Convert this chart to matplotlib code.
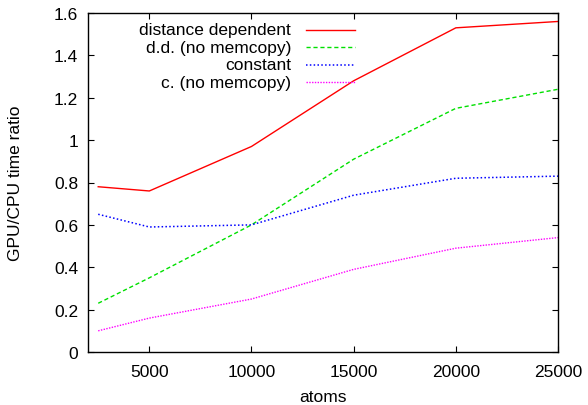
import numpy as np
import matplotlib
matplotlib.use("Agg")
import matplotlib.pyplot as plt

plt.rcParams['font.family'] = ['Liberation Sans', 'DejaVu Sans']

# atoms vs GPU/CPU time ratio
atoms = [2500, 5000, 10000, 15000, 20000, 25000]
dist_dep = [0.78, 0.76, 0.97, 1.28, 1.53, 1.56]
dd_nomem = [0.23, 0.35, 0.60, 0.91, 1.15, 1.24]
const = [0.65, 0.59, 0.60, 0.74, 0.82, 0.83]
c_nomem = [0.10, 0.16, 0.25, 0.39, 0.49, 0.54]

labels = ["distance dependent", "d.d. (no memcopy)", "constant", "c. (no memcopy)"]
xticks = [5000, 10000, 15000, 20000, 25000]
yticks = [0, 0.2, 0.4, 0.6, 0.8, 1, 1.2, 1.4, 1.6]
ytick_labels = ["0", "0.2", "0.4", "0.6", "0.8", "1", "1.2", "1.4", "1.6"]

fs = 12.5

fig = plt.figure(figsize=(5.88, 4.06), dpi=100)
ax = fig.add_axes([88/588, 53/406, 470/588, 339/406])

series = [dist_dep, dd_nomem, const, c_nomem]
styles = [
    dict(color="#ff0000", lw=1, ls="-"),
    dict(color="#00e000", lw=1, ls=(0, (3, 2))),
    dict(color="#0000ff", lw=1.1, ls=(0, (1, 1.5))),
    dict(color="#ff00ff", lw=1, ls=(0, (1, 1))),
]
for vals, st in zip(series, styles):
    ax.plot(atoms, vals, **st)

ax.set_xlim(2000, 25000)
ax.set_ylim(0, 1.6)
ax.set_xticks(xticks)
ax.set_xticklabels([str(v) for v in xticks])
ax.set_yticks(yticks)
ax.set_yticklabels(ytick_labels)
ax.tick_params(direction="in", length=4.5, width=0.8, top=True, right=True, labelsize=fs)
ax.tick_params(axis="x", pad=9)
ax.tick_params(axis="y", pad=7)
for s in ax.spines.values():
    s.set_linewidth(1)

ax.set_xlabel("atoms", fontsize=fs, labelpad=7)
ax.set_ylabel("GPU/CPU time ratio", fontsize=fs, labelpad=22)

# gnuplot style key: right aligned text, sample line to the right
key_y = [0.950, 0.899, 0.848, 0.796]
for lab, st, yy in zip(labels, styles, key_y):
    ax.text(0.432, yy, lab, transform=ax.transAxes, ha="right", va="center", fontsize=fs)
    ax.plot([0.464, 0.568], [yy, yy], transform=ax.transAxes, **st)

fig.savefig("out.png", dpi=100)
